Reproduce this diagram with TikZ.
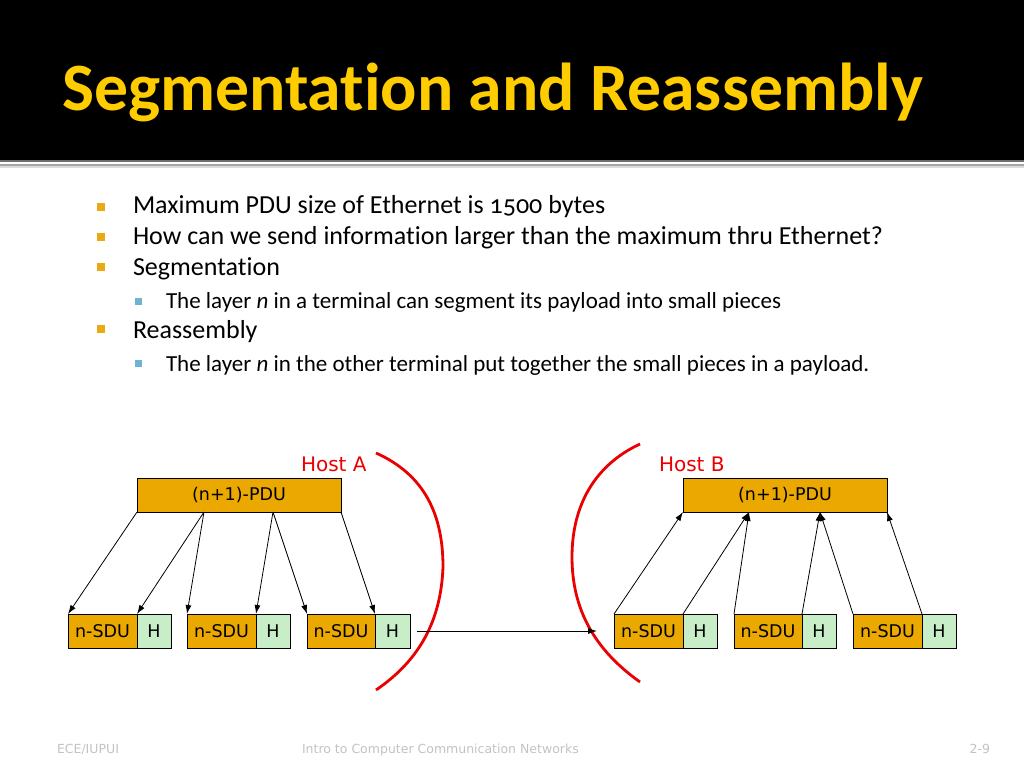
\documentclass[tikz,border=0pt]{standalone}
\usepackage{fontspec}
\setmainfont{Carlito}[Ligatures=CommonOff]
\newfontfamily\vfont{DejaVu Sans}
\usetikzlibrary{arrows.meta}
\definecolor{pduorange}{RGB}{234,168,0}
\definecolor{hgreen}{RGB}{200,238,200}
\definecolor{bulorange}{RGB}{234,170,20}
\definecolor{bulblue}{RGB}{110,180,210}
\definecolor{titley}{RGB}{255,204,0}
\definecolor{footgray}{RGB}{195,195,195}
\definecolor{hostred}{RGB}{235,0,0}
\definecolor{line1}{RGB}{110,110,110}
\definecolor{line2}{RGB}{165,165,165}
\definecolor{line3}{RGB}{220,220,220}
\begin{document}
\begin{tikzpicture}[x=1pt,y=-1pt,
  every node/.style={inner sep=0pt, outer sep=0pt},
  sdubox/.style={draw=black, line width=0.8pt, fill=pduorange, minimum height=34pt,
    anchor=north west, font=\vfont\fontsize{17.5}{17.5}\selectfont},
  hbox/.style={sdubox, fill=hgreen},
  conn/.style={line width=0.8pt, -{Latex[length=9pt,width=6pt]}},
  hostarc/.style={draw=hostred, line width=2.8pt},
  hostlabel/.style={anchor=base west, text=hostred, font=\vfont\fontsize{20}{20}\selectfont},
  mainitem/.style={anchor=base west, font=\fontsize{26}{26}\selectfont},
  subitem/.style={anchor=base west, font=\fontsize{23}{23}\selectfont},
  footer/.style={anchor=base west, text=footgray, font=\vfont\fontsize{12.5}{12.5}\selectfont}]
\useasboundingbox (0,0) rectangle (1024,768);
\fill[white] (0,0) rectangle (1024,768);
% title bar
\fill[black] (0,0) rectangle (1024,160);
\fill[line1] (0,160) rectangle (1024,161.6);
\fill[line2] (0,164.4) rectangle (1024,166.4);
\fill[line3] (0,166.4) rectangle (1024,168);
\node[anchor=base west, text=titley, font=\bfseries\fontsize{67.7}{67.7}\selectfont] (title) at (62,110) {Segmentation and Reassembly};
% bullets
\fill[bulorange] (97,203) rectangle (105,211);
\fill[bulorange] (97,233) rectangle (105,241);
\fill[bulorange] (97,263) rectangle (105,271);
\fill[bulorange] (97,325) rectangle (105,333);
\fill[bulblue] (135,298) rectangle (141.5,304.5);
\fill[bulblue] (135,360) rectangle (141.5,366.5);
\node[mainitem] (b1) at (133,213) {Maximum PDU size of Ethernet is {\addfontfeatures{Numbers=OldStyle}1500} bytes};
\node[mainitem] (b2) at (133,244) {How can we send information larger than the maximum thru Ethernet?};
\node[mainitem] (b3) at (133,275) {Segmentation};
\node[subitem] (s1) at (166,308) {The layer \textit{n} in a terminal can segment its payload into small pieces};
\node[mainitem] (b4) at (133,338) {Reassembly};
\node[subitem] (s2) at (166,371) {The layer \textit{n} in the other terminal put together the small pieces in a payload.};
% Host A
\node[hostlabel] (hostA) at (301,471) {Host A};
\node[sdubox, minimum width=204pt] (pduA) at (137,478) {(n+1)-PDU};
\node[sdubox, minimum width=69pt] (sA1) at (68,614) {n-SDU};
\node[hbox, minimum width=34pt] (hA1) at (137,614) {H};
\node[sdubox, minimum width=69pt] (sA2) at (187,614) {n-SDU};
\node[hbox, minimum width=34pt] (hA2) at (256,614) {H};
\node[sdubox, minimum width=68pt] (sA3) at (307,614) {n-SDU};
\node[hbox, minimum width=35pt] (hA3) at (375,614) {H};
\coordinate (pA1) at (204,512);
\coordinate (pA2) at (273,512);
\draw[conn] (pduA.south west) -- (sA1.north west);
\draw[conn] (pA1) -- (sA1.north east);
\draw[conn] (pA1) -- (sA2.north west);
\draw[conn] (pA2) -- (sA2.north east);
\draw[conn] (pA2) -- (sA3.north west);
\draw[conn] (pduA.south east) -- (sA3.north east);
\draw[hostarc] (376,453) .. controls (425,475) and (443,515) .. (443,567) .. controls (441,620) and (420,660) .. (376,690);
% Host B
\node[hostlabel] (hostB) at (659,471) {Host B};
\node[sdubox, minimum width=204pt] (pduB) at (683,478) {(n+1)-PDU};
\node[sdubox, minimum width=69pt] (sB1) at (614,614) {n-SDU};
\node[hbox, minimum width=34pt] (hB1) at (683,614) {H};
\node[sdubox, minimum width=68pt] (sB2) at (734,614) {n-SDU};
\node[hbox, minimum width=34pt] (hB2) at (802,614) {H};
\node[sdubox, minimum width=69pt] (sB3) at (853,614) {n-SDU};
\node[hbox, minimum width=34pt] (hB3) at (922,614) {H};
\coordinate (pB1) at (749,512);
\coordinate (pB2) at (820,512);
\draw[conn] (sB1.north west) -- (pduB.south west);
\draw[conn] (sB1.north east) -- (pB1);
\draw[conn] (sB2.north west) -- (pB1);
\draw[conn] (sB2.north east) -- (pB2);
\draw[conn] (sB3.north west) -- (pB2);
\draw[conn] (sB3.north east) -- (pduB.south east);
\draw[hostarc] (640,444) .. controls (595,465) and (572,505) .. (572,557) .. controls (572,610) and (595,650) .. (640,682);
% transmission
\draw[conn, shorten <=7pt, shorten >=17pt] (hA3.east) -- (sB1.west);
% footer
\node[footer] (f1) at (57,753) {ECE/IUPUI};
\node[footer] (f2) at (302,753) {Intro to Computer Communication Networks};
\node[footer, anchor=base east] (f3) at (990,753) {2-9};
\end{tikzpicture}
\end{document}
